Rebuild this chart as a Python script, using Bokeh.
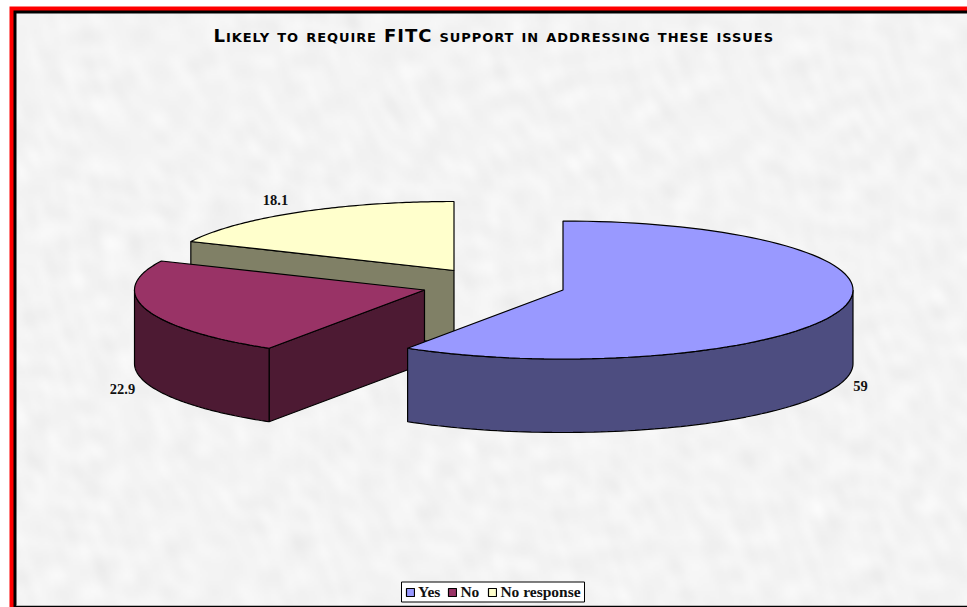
import numpy as np
from bokeh.core.properties import value
from bokeh.embed import file_html
from bokeh.layouts import column
from bokeh.models import ColumnDataSource, Legend, LegendItem, Range1d
from bokeh.plotting import figure
from bokeh.resources import INLINE

# Survey answers, in percent
categories = ["Yes", "No", "No response"]
shares = [59, 22.9, 18.1]
share_labels = ["59", "22.9", "18.1"]
chart_title = "Likely to require FITC support in addressing these issues"

# Slice colours: top face and side wall
top_colors = ["#9999FF", "#993366", "#FFFFCC"]
wall_colors = ["#4D4D80", "#4D1A33", "#808066"]

# Pie projection, in page pixels
RX, RY, DEPTH = 290, 69, 73.5
CENTERS = [(562.5, 289.5), (424, 289.5), (453.5, 270)]
LABEL_POS = [(860, 385), (122, 388), (275, 199)]
W, H = 967, 607


def rim(c, a0, a1, depth=0.0, n=90):
    """Points of the pie rim between two clockwise angles from 12 o'clock."""
    t = np.radians(np.linspace(a0, a1, n))
    return c[0] + RX * np.sin(t), c[1] - RY * np.cos(t) + depth


def wall_outer(c, a0, a1):
    x0, y0 = rim(c, a0, a1)
    x1, y1 = rim(c, a1, a0, DEPTH)
    return np.r_[x0, x1], np.r_[y0, y1]


def wall_radial(c, a):
    ex, ey = rim(c, a, a, n=1)
    return (np.array([c[0], ex[0], ex[0], c[0]]),
            np.array([c[1], ey[0], ey[0] + DEPTH, c[1] + DEPTH]))


p = figure(width=W, height=H, output_backend="svg", toolbar_location=None,
           x_range=Range1d(0, W), y_range=Range1d(H, 0),
           min_border=0, outline_line_color=None, border_fill_color="white",
           background_fill_color="white")
p.xaxis.visible = False
p.yaxis.visible = False
p.grid.visible = False

# Frame: white page, red band, black rule, then the mottled paper panel
p.quad(left=9, right=W + 5, top=6, bottom=H + 5, fill_color="#FF0000", line_color=None)
p.quad(left=13, right=W + 5, top=10, bottom=H + 5, fill_color="#000000", line_color=None)

# Cloudy paper shading from many overlaid waves in scattered directions
yy, xx = np.mgrid[0:296, 0:476] * 2.0
tex = np.zeros_like(xx)
for j in range(1, 31):
    ang = j * 2.39996
    wavelength = 16 + 44 * ((j * 0.618034) % 1)
    warp = 7 * np.sin(yy / (23 + j) + j) + 7 * np.sin(xx / (31 + j) - j)
    tex += np.sin((xx * np.cos(ang) + yy * np.sin(ang) + warp) * 2 * np.pi / wavelength + j * 1.7)
tex /= tex.std()
shade = (244 + tex * 1.8).clip(0, 255).astype(np.uint8)
rgba = np.dstack([shade, shade, shade, np.full_like(shade, 255)]).view(np.uint32).reshape(shade.shape)
p.image_rgba(image=[rgba], x=16, y=13, dw=W - 16, dh=592)
p.quad(left=16, right=W + 5, top=604.5, bottom=605.5, fill_color="#B8B8B8", line_color=None)

# Cumulative angles for each slice
edges = np.r_[0, np.cumsum(shares)] * 3.6

# Back slice first so nearer slices overlap it
top_renderers = {}
for i in [2, 1, 0]:
    a0, a1 = edges[i], edges[i + 1]
    c = CENTERS[i]
    walls = []
    if i == 2:
        walls.append(wall_radial(c, a0))
    if i == 1:
        walls.append(wall_radial(c, a0))
        walls.append(wall_outer(c, a0, 270))
    if i == 0:
        walls.append(wall_outer(c, 90, a1))
    for wx, wy in walls:
        p.patch(wx, wy, fill_color=wall_colors[i], line_color="black", line_width=1.2)
    rx, ry = rim(c, a0, a1)
    top_renderers[i] = p.patch(np.r_[c[0], rx], np.r_[c[1], ry], fill_color=top_colors[i],
                               line_color="black", line_width=1.2)

# Value labels
src = ColumnDataSource(dict(x=[q[0] for q in LABEL_POS], y=[q[1] for q in LABEL_POS], t=share_labels))
p.text(x="x", y="y", text="t", source=src, text_align="center", text_baseline="middle",
       text_font=value("Liberation Serif"), text_font_style="bold", text_font_size="14.5px",
       text_color="#111111")

# Legend: a snug white box with the entries set on top of it
p.quad(left=401, right=584, top=581.5, bottom=601.5, fill_color="white", line_color="black", line_width=1)
legend = Legend(items=[LegendItem(label=categories[i], renderers=[top_renderers[i]]) for i in range(3)],
                orientation="horizontal", location=(405, H - 601), margin=0, padding=0, spacing=7,
                glyph_width=10, glyph_height=10, label_standoff=3,
                label_text_font="Liberation Serif", label_text_font_style="bold",
                label_text_font_size="15.5px", label_text_color="#111111",
                border_line_color=None, background_fill_alpha=0, label_height=14)
p.add_layout(legend, "center")

# Title strip laid over the chart; small caps and tracking inherit into its drawing surface
t = figure(width=W, height=40, output_backend="svg", toolbar_location=None,
           x_range=Range1d(0, W), y_range=Range1d(56, 16),
           min_border=0, outline_line_color=None, border_fill_color=None,
           background_fill_color=None,
           styles={"position": "absolute", "left": "0px", "top": "16px", "font-variant": "small-caps",
                   "letter-spacing": "0.93px", "-webkit-text-stroke": "0.5px black"})
t.xaxis.visible = False
t.yaxis.visible = False
t.grid.visible = False
t.text(x=[213], y=[34.5], text=[chart_title], text_align="left", text_baseline="middle",
       text_font=value("DejaVu Sans"), text_font_style="bold", text_font_size="18px", text_color="black")

open("out.html", "w").write(file_html(column(p, t, spacing=0), INLINE))
